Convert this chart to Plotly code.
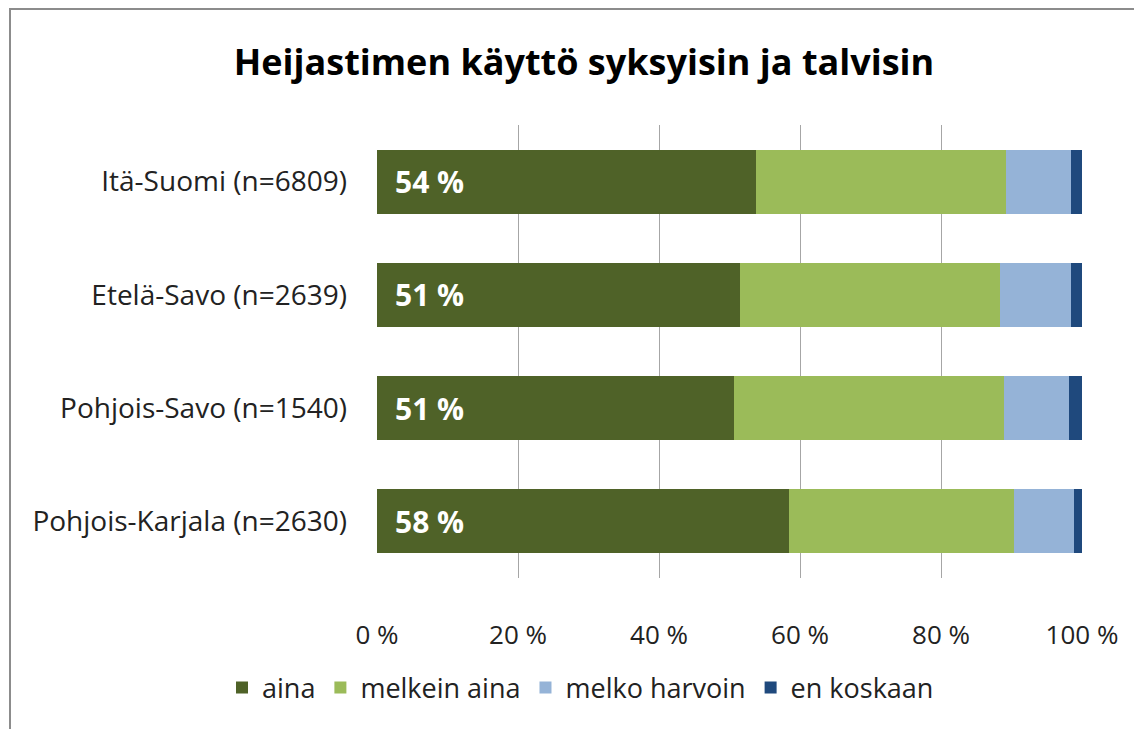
import plotly.graph_objects as go

regions = ["Itä-Suomi (n=6809)", "Etelä-Savo (n=2639)", "Pohjois-Savo (n=1540)", "Pohjois-Karjala (n=2630)"]
series_names = ["aina", "melkein aina", "melko harvoin", "en koskaan"]
aina = [53.8, 51.5, 50.6, 58.4]
melkein_aina = [35.4, 36.9, 38.3, 31.9]
melko_harvoin = [9.2, 10.0, 9.2, 8.5]
en_koskaan = [1.6, 1.6, 1.9, 1.2]
aina_labels = ["54 %", "51 %", "51 %", "58 %"]
tick_vals = [0, 20, 40, 60, 80, 100]
tick_text = ["0 %", "20 %", "40 %", "60 %", "80 %", "100 %"]
colors = ["#4F6228", "#9BBB59", "#95B3D7", "#1F497D"]

W, H = 1142, 729
OFF = 8  # page body margin
L, R, T, B = 369, 68, 117, 159
pw, ph = W - L - R, H - T - B

fig = go.Figure()
all_vals = [aina, melkein_aina, melko_harvoin, en_koskaan]
for i, (name, vals) in enumerate(zip(series_names, all_vals)):
    fig.add_trace(go.Bar(
        y=regions, x=vals, name=name, orientation="h",
        marker=dict(color=colors[i], line=dict(width=0)),
        hoverinfo="x+y+name"))

for reg, lab in zip(regions, aina_labels):
    fig.add_annotation(x=0, y=reg, xref="x", yref="y", text="<b>" + lab + "</b>",
                       showarrow=False, xanchor="left", xshift=16,
                       font=dict(family="Open Sans", size=30, color="white"))

def px_x(px):
    return (px - OFF - L) / pw

def px_y(py):
    return (H - B - (py - OFF)) / ph

fig.update_layout(
    width=W, height=H,
    margin=dict(l=L, r=R, t=T, b=B, autoexpand=False),
    barmode="stack", bargap=0.435,
    plot_bgcolor="white", paper_bgcolor="white",
    font=dict(family="Open Sans", size=26, color="#222222"),
    title=dict(text="<b>Heijastimen käyttö syksyisin ja talvisin</b>",
               x=((233 + 935) / 2 - OFF) / W, xanchor="center",
               y=1 - (62 - OFF) / H, yanchor="middle",
               font=dict(family="Open Sans", size=36, color="black")),
    xaxis=dict(range=[0, 100], tickvals=tick_vals, ticktext=tick_text,
               showgrid=True, gridcolor="#A6A6A6", gridwidth=1,
               zeroline=False, showline=False, ticks="",
               ticklabelstandoff=39,
               tickfont=dict(family="Open Sans", size=26, color="#222222")),
    yaxis=dict(categoryorder="array", categoryarray=regions, autorange="reversed",
               showgrid=False, zeroline=False, showline=False, ticks="",
               ticklabelstandoff=29,
               tickfont=dict(family="Open Sans", size=28, color="#222222")),
    legend=dict(orientation="h", x=px_x(222), xanchor="left",
                y=px_y(688), yanchor="middle", bgcolor="rgba(0,0,0,0)",
                font=dict(family="Open Sans", size=27, color="#222222"),
                traceorder="normal", itemwidth=30),
    shapes=[dict(type="rect", xref="paper", yref="paper",
                 x0=px_x(10), x1=px_x(1160), y0=px_y(745), y1=px_y(9),
                 line=dict(color="#8C8C8C", width=2), fillcolor="rgba(0,0,0,0)",
                 layer="below")],
)

fig.write_html("out.html")
